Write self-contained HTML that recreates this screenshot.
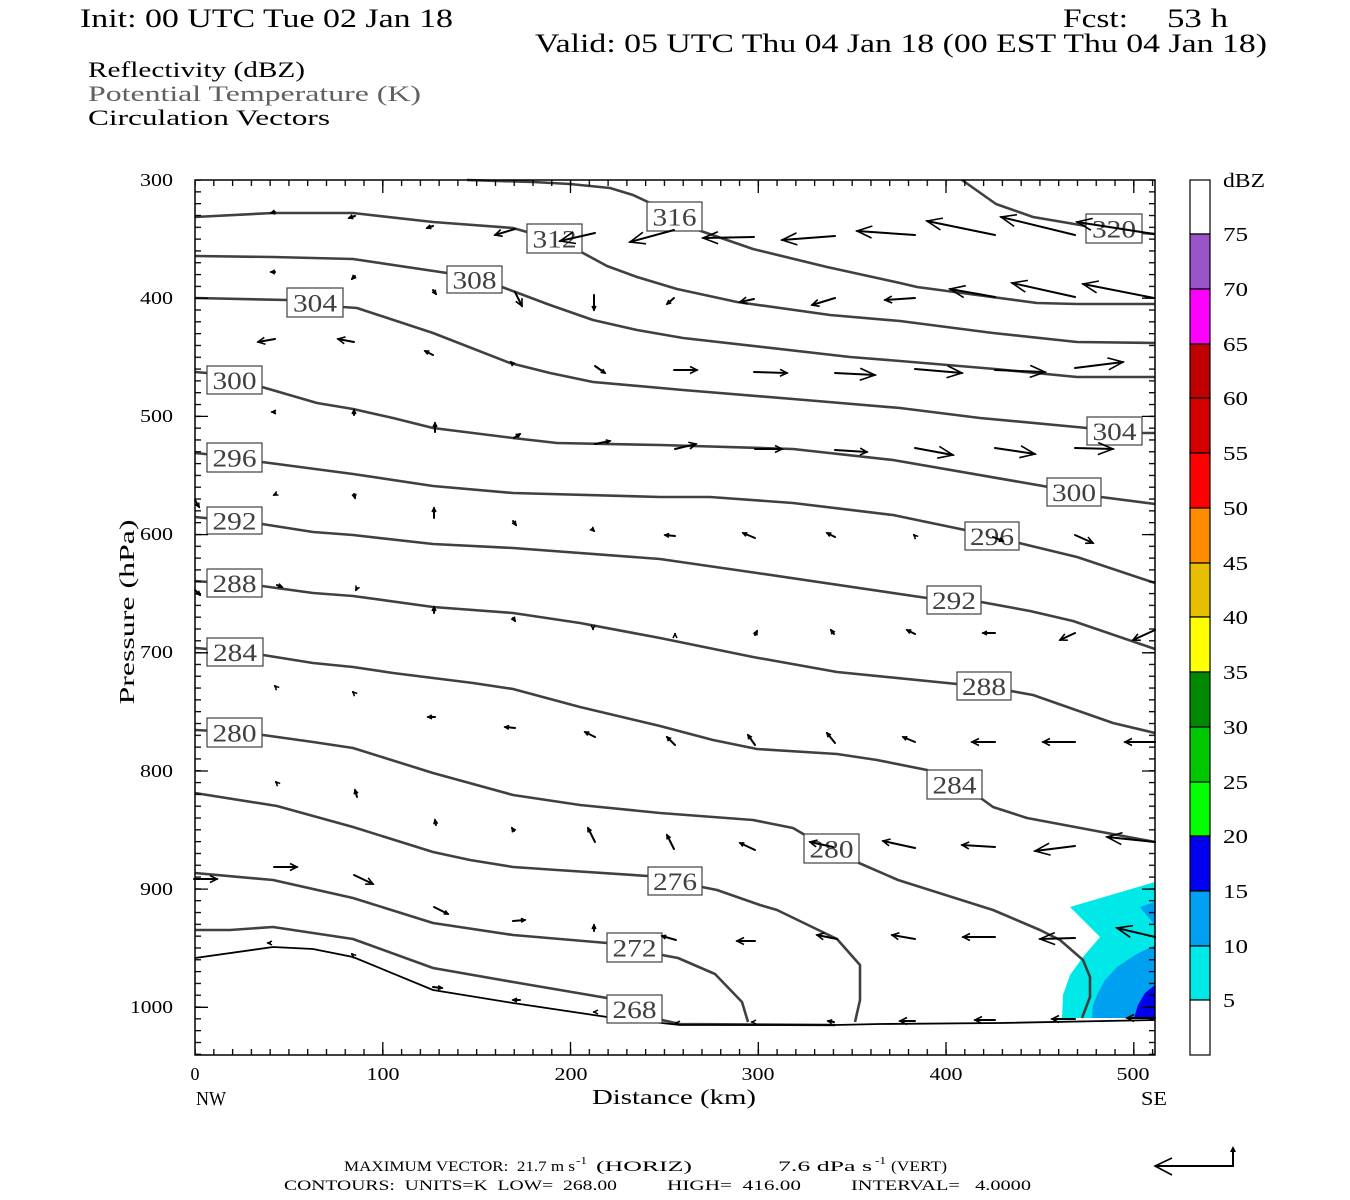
<!DOCTYPE html>
<html><head><meta charset="utf-8"><style>
html,body{margin:0;padding:0;background:#fff;}
svg{display:block;}
text{font-family:"Liberation Serif",serif;white-space:pre;}
</style></head><body>
<svg width="1350" height="1200" viewBox="0 0 1350 1200" xmlns="http://www.w3.org/2000/svg">
<defs>
<marker id="aL" markerUnits="userSpaceOnUse" orient="auto" markerWidth="1" markerHeight="1" refX="0" refY="0" style="overflow:visible" overflow="visible"><path d="M-15,-6 L0,0 L-15,6" fill="none" stroke="#000" stroke-width="1.6"/></marker>
<marker id="aM" markerUnits="userSpaceOnUse" orient="auto" markerWidth="1" markerHeight="1" refX="0" refY="0" style="overflow:visible" overflow="visible"><path d="M-7,-3.5 L0,0 L-7,3.5" fill="none" stroke="#000" stroke-width="1.6"/></marker>
<marker id="aS" markerUnits="userSpaceOnUse" orient="auto" markerWidth="1" markerHeight="1" refX="0" refY="0" style="overflow:visible" overflow="visible"><path d="M-4,-2 L0,0 L-4,2" fill="none" stroke="#000" stroke-width="1.5"/></marker>
<pattern id="tv" patternUnits="userSpaceOnUse" x="0" y="179.4" width="10" height="11.814"><rect x="0" y="0" width="10" height="1.3" fill="#000"/></pattern>
<pattern id="th" patternUnits="userSpaceOnUse" x="194.4" y="0" width="18.775" height="10"><rect x="0" y="0" width="1.3" height="10" fill="#000"/></pattern>
</defs>
<rect width="1350" height="1200" fill="#fff"/>

<!-- titles -->
<text x="80" y="27" font-size="26" textLength="373" lengthAdjust="spacingAndGlyphs">Init: 00 UTC Tue 02 Jan 18</text>
<text x="1063" y="27" font-size="26" textLength="65" lengthAdjust="spacingAndGlyphs">Fcst:</text>
<text x="1167" y="27" font-size="26" textLength="61" lengthAdjust="spacingAndGlyphs">53 h</text>
<text x="535" y="52" font-size="26" textLength="732" lengthAdjust="spacingAndGlyphs">Valid: 05 UTC Thu 04 Jan 18 (00 EST Thu 04 Jan 18)</text>
<text x="88" y="77" font-size="22" textLength="217" lengthAdjust="spacingAndGlyphs">Reflectivity (dBZ)</text>
<text x="88" y="101" font-size="22" textLength="333" lengthAdjust="spacingAndGlyphs" fill="#606060">Potential Temperature (K)</text>
<text x="88" y="125" font-size="22" textLength="242" lengthAdjust="spacingAndGlyphs">Circulation Vectors</text>

<!-- reflectivity fill -->
<polygon points="1155,882 1070,907 1100,937 1083,957 1070,975 1063,995 1062,1018 1155,1018" fill="#00e8e8"/>
<polygon points="1155,945 1135,955 1117,967 1105,980 1098,993 1093,1005 1092,1018 1155,1018" fill="#00a0f0"/>
<polygon points="1140,907 1155,902 1155,925 1148,917" fill="#00a0f0"/>
<polygon points="1155,985 1145,993 1138,1005 1134,1018 1155,1018" fill="#0000ee"/>

<!-- contours -->
<g fill="none" stroke="#404040" stroke-width="2.6" stroke-linejoin="round">
<polyline points="962,180 996,204 1033,217 1086,226 1142,233 1155,234"/>
<polyline points="467,180 533,182 570,184 610,188 633,195 648,202 675,217 698,230 753,249 827,267 900,283 917,287 1037,303 1077,304 1155,304"/>
<polyline points="195,217 273,213 353,213 433,222 513,228 555,240 583,253 607,266 637,277 677,289 737,302 830,315 900,321 993,333 1077,342 1155,343"/>
<polyline points="195,256 273,257 353,259 447,273 475,280 502,287 550,305 593,320 637,330 683,338 850,357 900,361 995,369 1077,377 1155,377"/>
<polyline points="195,298 287,300 315,303 343,307 357,308 433,333 510,363 550,373 593,382 683,390 805,400 900,408 980,418 1087,428 1115,431 1142,433 1155,433"/>
<polyline points="195,372 207,373 235,380 262,387 317,403 353,409 393,418 433,428 513,438 557,443 660,445 793,449 893,460 1043,486 1074,492 1101,497 1155,504"/>
<polyline points="195,453 235,457 262,462 353,474 433,486 513,493 660,497 710,497 793,503 893,515 965,530 992,536 1019,543 1077,557 1155,583"/>
<polyline points="195,517 235,521 262,524 313,532 353,535 433,544 513,548 660,559 757,573 927,598 954,600 981,602 1030,611 1073,621 1155,649"/>
<polyline points="195,581 235,584 262,586 313,593 353,596 433,607 513,613 580,623 660,638 753,657 837,672 957,684 984,687 1011,691 1033,695 1113,723 1155,733"/>
<polyline points="195,648 235,651 263,655 313,663 353,667 393,673 473,683 513,689 580,707 660,726 713,740 757,749 837,754 877,760 927,770 955,785 982,799 993,807 1027,818 1155,842"/>
<polyline points="195,730 235,732 263,735 313,742 353,748 433,773 513,795 580,805 660,813 753,820 793,828 805,835 832,849 859,863 898,880 993,910 1040,930 1060,940 1083,960 1090,977 1090,997 1082,1018"/>
<polyline points="195,793 277,806 353,827 433,852 470,860 513,867 557,870 648,876 675,881 702,887 717,890 760,905 777,910 837,939 860,965 860,1000 855,1022"/>
<polyline points="195,873 273,880 353,898 433,923 513,935 607,943 635,949 662,955 678,958 715,974 742,1002 748,1022"/>
<polyline points="195,930 230,930 273,927 353,939 433,968 513,982 607,998 635,1010 662,1020 680,1024 835,1025"/>
</g>
<!-- terrain -->
<polyline points="195,958 273,947 313,949 353,957 433,990 513,1003 607,1017 680,1025 835,1025 880,1024 1000,1023 1155,1020" fill="none" stroke="#000" stroke-width="1.8"/>

<!-- contour labels -->
<g fill="#fff" stroke="#404040" stroke-width="1.2">
<rect x="647" y="202" width="55" height="29"/>
<rect x="527" y="224" width="55" height="29"/>
<rect x="447" y="266" width="55" height="27"/>
<rect x="287" y="288" width="56" height="29"/>
<rect x="207" y="366" width="55" height="28"/>
<rect x="207" y="443" width="55" height="29"/>
<rect x="207" y="507" width="55" height="27"/>
<rect x="207" y="569" width="55" height="28"/>
<rect x="207" y="638" width="56" height="28"/>
<rect x="207" y="718" width="55" height="29"/>
<rect x="1086" y="214" width="56" height="29"/>
<rect x="1087" y="417" width="55" height="28"/>
<rect x="1047" y="478" width="54" height="28"/>
<rect x="965" y="522" width="54" height="28"/>
<rect x="927" y="586" width="54" height="28"/>
<rect x="957" y="672" width="54" height="28"/>
<rect x="927" y="770" width="55" height="29"/>
<rect x="804" y="834" width="55" height="29"/>
<rect x="648" y="867" width="54" height="28"/>
<rect x="607" y="933" width="55" height="29"/>
<rect x="607" y="995" width="55" height="28"/>
</g>
<g font-size="25" fill="#404040" text-anchor="middle">
<text x="674.5" y="225.5" textLength="44" lengthAdjust="spacingAndGlyphs">316</text>
<text x="554.5" y="247.5" textLength="44" lengthAdjust="spacingAndGlyphs">312</text>
<text x="474.5" y="288.5" textLength="44" lengthAdjust="spacingAndGlyphs">308</text>
<text x="315" y="311.5" textLength="44" lengthAdjust="spacingAndGlyphs">304</text>
<text x="234.5" y="389" textLength="44" lengthAdjust="spacingAndGlyphs">300</text>
<text x="234.5" y="466.5" textLength="44" lengthAdjust="spacingAndGlyphs">296</text>
<text x="234.5" y="529.5" textLength="44" lengthAdjust="spacingAndGlyphs">292</text>
<text x="234.5" y="592" textLength="44" lengthAdjust="spacingAndGlyphs">288</text>
<text x="235" y="661" textLength="44" lengthAdjust="spacingAndGlyphs">284</text>
<text x="234.5" y="741.5" textLength="44" lengthAdjust="spacingAndGlyphs">280</text>
<text x="1114" y="237.5" textLength="44" lengthAdjust="spacingAndGlyphs">320</text>
<text x="1114.5" y="440" textLength="44" lengthAdjust="spacingAndGlyphs">304</text>
<text x="1074" y="501" textLength="44" lengthAdjust="spacingAndGlyphs">300</text>
<text x="992" y="545" textLength="44" lengthAdjust="spacingAndGlyphs">296</text>
<text x="954" y="609" textLength="44" lengthAdjust="spacingAndGlyphs">292</text>
<text x="984" y="695" textLength="44" lengthAdjust="spacingAndGlyphs">288</text>
<text x="954.5" y="793.5" textLength="44" lengthAdjust="spacingAndGlyphs">284</text>
<text x="831.5" y="857.5" textLength="44" lengthAdjust="spacingAndGlyphs">280</text>
<text x="675" y="890" textLength="44" lengthAdjust="spacingAndGlyphs">276</text>
<text x="634.5" y="956.5" textLength="44" lengthAdjust="spacingAndGlyphs">272</text>
<text x="634.5" y="1018" textLength="44" lengthAdjust="spacingAndGlyphs">268</text>
</g>

<!-- vectors -->
<g stroke="#000" stroke-width="2" fill="none" stroke-linecap="round">
<!-- row A -->
<line x1="275" y1="212" x2="271" y2="213" marker-end="url(#aS)"/>
<line x1="355" y1="216" x2="349" y2="218" marker-end="url(#aS)"/>
<line x1="433" y1="226" x2="427" y2="228" marker-end="url(#aS)"/>
<line x1="515" y1="229" x2="495" y2="235" marker-end="url(#aM)"/>
<line x1="595" y1="233" x2="560" y2="241" marker-end="url(#aL)"/>
<line x1="674" y1="230" x2="630" y2="242" marker-end="url(#aL)"/>
<line x1="754" y1="237" x2="703" y2="238" marker-end="url(#aL)"/>
<line x1="835" y1="236" x2="782" y2="240" marker-end="url(#aL)"/>
<line x1="915" y1="235" x2="857" y2="231" marker-end="url(#aL)"/>
<line x1="995" y1="235" x2="927" y2="221" marker-end="url(#aL)"/>
<line x1="1075" y1="235" x2="1001" y2="217" marker-end="url(#aL)"/>
<line x1="1154" y1="234" x2="1077" y2="222" marker-end="url(#aL)"/>
<!-- row B -->
<line x1="275" y1="272" x2="271" y2="272" marker-end="url(#aS)"/>
<line x1="355" y1="276" x2="352" y2="279" marker-end="url(#aS)"/>
<line x1="433" y1="290" x2="436" y2="294" marker-end="url(#aS)"/>
<line x1="515" y1="292" x2="522" y2="306" marker-end="url(#aM)"/>
<line x1="594" y1="295" x2="594" y2="310" marker-end="url(#aS)"/>
<line x1="674" y1="298" x2="667" y2="304" marker-end="url(#aS)"/>
<line x1="754" y1="299" x2="740" y2="302" marker-end="url(#aM)"/>
<line x1="835" y1="298" x2="812" y2="305" marker-end="url(#aM)"/>
<line x1="915" y1="298" x2="885" y2="300" marker-end="url(#aM)"/>
<line x1="995" y1="297" x2="950" y2="289" marker-end="url(#aL)"/>
<line x1="1075" y1="297" x2="1012" y2="283" marker-end="url(#aL)"/>
<line x1="1154" y1="298" x2="1083" y2="284" marker-end="url(#aL)"/>
<!-- row C -->
<line x1="275" y1="339" x2="258" y2="342" marker-end="url(#aM)"/>
<line x1="354" y1="342" x2="338" y2="339" marker-end="url(#aM)"/>
<line x1="433" y1="355" x2="425" y2="351" marker-end="url(#aS)"/>
<line x1="513" y1="364" x2="511" y2="362" marker-end="url(#aS)"/>
<line x1="595" y1="366" x2="605" y2="373" marker-end="url(#aS)"/>
<line x1="674" y1="370" x2="697" y2="370" marker-end="url(#aM)"/>
<line x1="754" y1="372" x2="787" y2="373" marker-end="url(#aM)"/>
<line x1="835" y1="373" x2="875" y2="375" marker-end="url(#aL)"/>
<line x1="915" y1="369" x2="962" y2="373" marker-end="url(#aL)"/>
<line x1="995" y1="370" x2="1045" y2="372" marker-end="url(#aL)"/>
<line x1="1075" y1="368" x2="1123" y2="362" marker-end="url(#aL)"/>
<!-- row D -->
<line x1="275" y1="412" x2="272" y2="412" marker-end="url(#aS)"/>
<line x1="354" y1="415" x2="354" y2="410" marker-end="url(#aS)"/>
<line x1="435" y1="432" x2="435" y2="423" marker-end="url(#aS)"/>
<line x1="514" y1="438" x2="520" y2="434" marker-end="url(#aS)"/>
<line x1="595" y1="444" x2="610" y2="441" marker-end="url(#aS)"/>
<line x1="675" y1="449" x2="696" y2="444" marker-end="url(#aM)"/>
<line x1="755" y1="449" x2="782" y2="449" marker-end="url(#aM)"/>
<line x1="835" y1="450" x2="867" y2="452" marker-end="url(#aM)"/>
<line x1="915" y1="448" x2="953" y2="455" marker-end="url(#aL)"/>
<line x1="995" y1="448" x2="1035" y2="454" marker-end="url(#aL)"/>
<line x1="1075" y1="448" x2="1113" y2="449" marker-end="url(#aL)"/>
<!-- row E -->
<line x1="276" y1="494" x2="274" y2="495" marker-end="url(#aS)"/>
<line x1="354" y1="494" x2="355" y2="498" marker-end="url(#aS)"/>
<line x1="434" y1="518" x2="434" y2="508" marker-end="url(#aS)"/>
<line x1="513" y1="521" x2="516" y2="525" marker-end="url(#aS)"/>
<line x1="592" y1="529" x2="594" y2="531" marker-end="url(#aS)"/>
<line x1="675" y1="536" x2="665" y2="535" marker-end="url(#aS)"/>
<line x1="755" y1="538" x2="743" y2="533" marker-end="url(#aS)"/>
<line x1="835" y1="537" x2="827" y2="533" marker-end="url(#aS)"/>
<line x1="915" y1="536" x2="914" y2="535" marker-end="url(#aS)"/>
<line x1="993" y1="537" x2="1003" y2="541" marker-end="url(#aS)"/>
<line x1="1075" y1="535" x2="1093" y2="543" marker-end="url(#aM)"/>
<line x1="195" y1="500" x2="199" y2="507" marker-end="url(#aS)"/>
<!-- row F -->
<line x1="277" y1="585" x2="282" y2="587" marker-end="url(#aS)"/>
<line x1="357" y1="588" x2="356" y2="590" marker-end="url(#aS)"/>
<line x1="434" y1="613" x2="434" y2="607" marker-end="url(#aS)"/>
<line x1="513" y1="618" x2="515" y2="621" marker-end="url(#aS)"/>
<line x1="593" y1="628" x2="593" y2="629" marker-end="url(#aS)"/>
<line x1="675" y1="635" x2="675" y2="634" marker-end="url(#aS)"/>
<line x1="755" y1="635" x2="757" y2="631" marker-end="url(#aS)"/>
<line x1="834" y1="634" x2="831" y2="630" marker-end="url(#aS)"/>
<line x1="915" y1="634" x2="907" y2="630" marker-end="url(#aS)"/>
<line x1="995" y1="633" x2="983" y2="633" marker-end="url(#aS)"/>
<line x1="1075" y1="633" x2="1060" y2="640" marker-end="url(#aM)"/>
<line x1="1155" y1="630" x2="1133" y2="640" marker-end="url(#aM)"/>
<line x1="195" y1="590" x2="200" y2="595" marker-end="url(#aS)"/>
<!-- row G -->
<line x1="276" y1="687" x2="275" y2="686" marker-end="url(#aS)"/>
<line x1="354" y1="693" x2="353" y2="692" marker-end="url(#aS)"/>
<line x1="435" y1="717" x2="428" y2="717" marker-end="url(#aS)"/>
<line x1="515" y1="728" x2="505" y2="727" marker-end="url(#aS)"/>
<line x1="595" y1="737" x2="585" y2="732" marker-end="url(#aS)"/>
<line x1="675" y1="745" x2="667" y2="737" marker-end="url(#aS)"/>
<line x1="755" y1="745" x2="748" y2="735" marker-end="url(#aS)"/>
<line x1="835" y1="743" x2="827" y2="733" marker-end="url(#aS)"/>
<line x1="915" y1="742" x2="903" y2="737" marker-end="url(#aS)"/>
<line x1="995" y1="742" x2="972" y2="742" marker-end="url(#aM)"/>
<line x1="1075" y1="742" x2="1043" y2="742" marker-end="url(#aM)"/>
<line x1="1155" y1="742" x2="1125" y2="742" marker-end="url(#aM)"/>
<!-- row H -->
<line x1="277" y1="783" x2="276" y2="782" marker-end="url(#aS)"/>
<line x1="357" y1="797" x2="355" y2="790" marker-end="url(#aS)"/>
<line x1="436" y1="825" x2="435" y2="820" marker-end="url(#aS)"/>
<line x1="514" y1="831" x2="512" y2="828" marker-end="url(#aS)"/>
<line x1="595" y1="842" x2="588" y2="828" marker-end="url(#aS)"/>
<line x1="674" y1="849" x2="667" y2="835" marker-end="url(#aS)"/>
<line x1="755" y1="850" x2="740" y2="843" marker-end="url(#aS)"/>
<line x1="833" y1="847" x2="810" y2="842" marker-end="url(#aM)"/>
<line x1="915" y1="848" x2="883" y2="841" marker-end="url(#aM)"/>
<line x1="995" y1="847" x2="962" y2="845" marker-end="url(#aM)"/>
<line x1="1075" y1="846" x2="1035" y2="851" marker-end="url(#aL)"/>
<line x1="1155" y1="842" x2="1107" y2="837" marker-end="url(#aL)"/>
<!-- row I -->
<line x1="194" y1="879" x2="217" y2="879" marker-end="url(#aM)"/>
<line x1="274" y1="867" x2="297" y2="867" marker-end="url(#aM)"/>
<line x1="354" y1="875" x2="373" y2="884" marker-end="url(#aM)"/>
<line x1="434" y1="907" x2="448" y2="914" marker-end="url(#aS)"/>
<line x1="513" y1="921" x2="525" y2="920" marker-end="url(#aS)"/>
<line x1="594" y1="931" x2="594" y2="925" marker-end="url(#aS)"/>
<line x1="676" y1="940" x2="662" y2="936" marker-end="url(#aS)"/>
<line x1="755" y1="941" x2="737" y2="941" marker-end="url(#aM)"/>
<line x1="837" y1="939" x2="817" y2="935" marker-end="url(#aM)"/>
<line x1="915" y1="939" x2="892" y2="935" marker-end="url(#aM)"/>
<line x1="995" y1="937" x2="963" y2="937" marker-end="url(#aM)"/>
<line x1="1075" y1="938" x2="1040" y2="939" marker-end="url(#aL)"/>
<line x1="1155" y1="937" x2="1117" y2="928" marker-end="url(#aL)"/>
<!-- row J -->
<line x1="270" y1="943" x2="268" y2="943" marker-end="url(#aS)"/>
<line x1="353" y1="955" x2="352" y2="954" marker-end="url(#aS)"/>
<line x1="433" y1="987" x2="442" y2="988" marker-end="url(#aS)"/>
<line x1="520" y1="1000" x2="513" y2="1000" marker-end="url(#aS)"/>
<line x1="595" y1="1012" x2="594" y2="1012" marker-end="url(#aS)"/>
<line x1="677" y1="1023" x2="676" y2="1023" marker-end="url(#aS)"/>
<line x1="753" y1="1022" x2="752" y2="1022" marker-end="url(#aS)"/>
<line x1="834" y1="1022" x2="828" y2="1021" marker-end="url(#aS)"/>
<line x1="915" y1="1021" x2="900" y2="1021" marker-end="url(#aM)"/>
<line x1="995" y1="1020" x2="975" y2="1020" marker-end="url(#aM)"/>
<line x1="1075" y1="1019" x2="1052" y2="1019" marker-end="url(#aM)"/>
<line x1="1155" y1="1018" x2="1127" y2="1018" marker-end="url(#aM)"/>
</g>

<!-- ticks -->
<rect x="195" y="180" width="6" height="875" fill="url(#tv)"/>
<rect x="1149" y="180" width="6" height="875" fill="url(#tv)"/>
<rect x="195" y="180" width="960" height="6" fill="url(#th)"/>
<rect x="195" y="1049" width="960" height="6" fill="url(#th)"/>
<g stroke="#000" stroke-width="1.3">
<path d="M195,298.2h13M195,416.4h13M195,534.6h13M195,652.8h13M195,771h13M195,889.1h13M195,1007.3h13"/>
<path d="M1155,298.2h-13M1155,416.4h-13M1155,534.6h-13M1155,652.8h-13M1155,771h-13M1155,889.1h-13M1155,1007.3h-13"/>
<path d="M382.8,180v13M570.5,180v13M758.3,180v13M946,180v13M1133.8,180v13"/>
<path d="M382.8,1055v-13M570.5,1055v-13M758.3,1055v-13M946,1055v-13M1133.8,1055v-13"/>
</g>
<rect x="195" y="180" width="960" height="875" fill="none" stroke="#000" stroke-width="1.5"/>

<!-- axis labels -->
<g font-size="18" text-anchor="end">
<text x="173" y="186" textLength="33" lengthAdjust="spacingAndGlyphs">300</text>
<text x="173" y="304" textLength="33" lengthAdjust="spacingAndGlyphs">400</text>
<text x="173" y="422" textLength="33" lengthAdjust="spacingAndGlyphs">500</text>
<text x="173" y="540" textLength="33" lengthAdjust="spacingAndGlyphs">600</text>
<text x="173" y="658" textLength="33" lengthAdjust="spacingAndGlyphs">700</text>
<text x="173" y="777" textLength="33" lengthAdjust="spacingAndGlyphs">800</text>
<text x="173" y="895" textLength="33" lengthAdjust="spacingAndGlyphs">900</text>
<text x="173" y="1013" textLength="43" lengthAdjust="spacingAndGlyphs">1000</text>
</g>
<g font-size="18" text-anchor="middle">
<text x="195" y="1080">0</text>
<text x="383" y="1080" textLength="33" lengthAdjust="spacingAndGlyphs">100</text>
<text x="571" y="1080" textLength="33" lengthAdjust="spacingAndGlyphs">200</text>
<text x="758" y="1080" textLength="33" lengthAdjust="spacingAndGlyphs">300</text>
<text x="946" y="1080" textLength="33" lengthAdjust="spacingAndGlyphs">400</text>
<text x="1133" y="1080" textLength="33" lengthAdjust="spacingAndGlyphs">500</text>
</g>
<text x="196" y="1105" font-size="20" textLength="30" lengthAdjust="spacingAndGlyphs">NW</text>
<text x="1141" y="1105" font-size="20" textLength="26" lengthAdjust="spacingAndGlyphs">SE</text>
<text x="674" y="1104" font-size="21" text-anchor="middle" textLength="164" lengthAdjust="spacingAndGlyphs">Distance (km)</text>
<text transform="translate(134,612) rotate(-90)" font-size="21" text-anchor="middle" textLength="185" lengthAdjust="spacingAndGlyphs">Pressure (hPa)</text>

<!-- colorbar -->
<g stroke="#000" stroke-width="1.2">
<rect x="1190" y="180" width="20" height="54" fill="#fff"/>
<rect x="1190" y="234" width="20" height="55" fill="#9955c8"/>
<rect x="1190" y="289" width="20" height="55" fill="#ff00ff"/>
<rect x="1190" y="344" width="20" height="54" fill="#c00000"/>
<rect x="1190" y="398" width="20" height="55" fill="#d40000"/>
<rect x="1190" y="453" width="20" height="55" fill="#ff0000"/>
<rect x="1190" y="508" width="20" height="55" fill="#ff8c00"/>
<rect x="1190" y="563" width="20" height="54" fill="#e6c000"/>
<rect x="1190" y="617" width="20" height="55" fill="#ffff00"/>
<rect x="1190" y="672" width="20" height="55" fill="#008800"/>
<rect x="1190" y="727" width="20" height="55" fill="#00c800"/>
<rect x="1190" y="782" width="20" height="54" fill="#00ff00"/>
<rect x="1190" y="836" width="20" height="55" fill="#0000f0"/>
<rect x="1190" y="891" width="20" height="55" fill="#00a0f0"/>
<rect x="1190" y="946" width="20" height="54" fill="#00e8e8"/>
<rect x="1190" y="1000" width="20" height="55" fill="#fff"/>
</g>
<g font-size="20">
<text x="1223" y="187" textLength="42" lengthAdjust="spacingAndGlyphs">dBZ</text>
<text x="1223" y="241" textLength="25" lengthAdjust="spacingAndGlyphs">75</text>
<text x="1223" y="296" textLength="25" lengthAdjust="spacingAndGlyphs">70</text>
<text x="1223" y="351" textLength="25" lengthAdjust="spacingAndGlyphs">65</text>
<text x="1223" y="405" textLength="25" lengthAdjust="spacingAndGlyphs">60</text>
<text x="1223" y="460" textLength="25" lengthAdjust="spacingAndGlyphs">55</text>
<text x="1223" y="515" textLength="25" lengthAdjust="spacingAndGlyphs">50</text>
<text x="1223" y="570" textLength="25" lengthAdjust="spacingAndGlyphs">45</text>
<text x="1223" y="624" textLength="25" lengthAdjust="spacingAndGlyphs">40</text>
<text x="1223" y="679" textLength="25" lengthAdjust="spacingAndGlyphs">35</text>
<text x="1223" y="734" textLength="25" lengthAdjust="spacingAndGlyphs">30</text>
<text x="1223" y="789" textLength="25" lengthAdjust="spacingAndGlyphs">25</text>
<text x="1223" y="843" textLength="25" lengthAdjust="spacingAndGlyphs">20</text>
<text x="1223" y="898" textLength="25" lengthAdjust="spacingAndGlyphs">15</text>
<text x="1223" y="953" textLength="25" lengthAdjust="spacingAndGlyphs">10</text>
<text x="1223" y="1007" textLength="12" lengthAdjust="spacingAndGlyphs">5</text>
</g>

<!-- footer -->
<g font-size="15">
<text x="344" y="1171" textLength="231" lengthAdjust="spacingAndGlyphs">MAXIMUM VECTOR:  21.7 m s</text>
<text x="576" y="1164" font-size="10" textLength="11" lengthAdjust="spacingAndGlyphs">-1</text>
<text x="596" y="1171" textLength="96" lengthAdjust="spacingAndGlyphs">(HORIZ)</text>
<text x="778" y="1171" textLength="94" lengthAdjust="spacingAndGlyphs">7.6 dPa s</text>
<text x="875" y="1164" font-size="10" textLength="11" lengthAdjust="spacingAndGlyphs">-1</text>
<text x="891" y="1171" textLength="56" lengthAdjust="spacingAndGlyphs">(VERT)</text>
<text x="284" y="1190" textLength="333" lengthAdjust="spacingAndGlyphs">CONTOURS:  UNITS=K  LOW=  268.00</text>
<text x="667" y="1190" textLength="134" lengthAdjust="spacingAndGlyphs">HIGH=  416.00</text>
<text x="851" y="1190" textLength="180" lengthAdjust="spacingAndGlyphs">INTERVAL=   4.0000</text>
</g>
<!-- reference vector -->
<g stroke="#000" stroke-width="2" fill="none">
<path d="M1233,1149 V1166 H1155"/>
<path d="M1172,1158 L1155,1166 L1172,1175" stroke-width="1.6"/>
</g>
<path d="M1230,1152 L1233,1146 L1236,1152 Z" fill="#000"/>
</svg>
</body></html>
